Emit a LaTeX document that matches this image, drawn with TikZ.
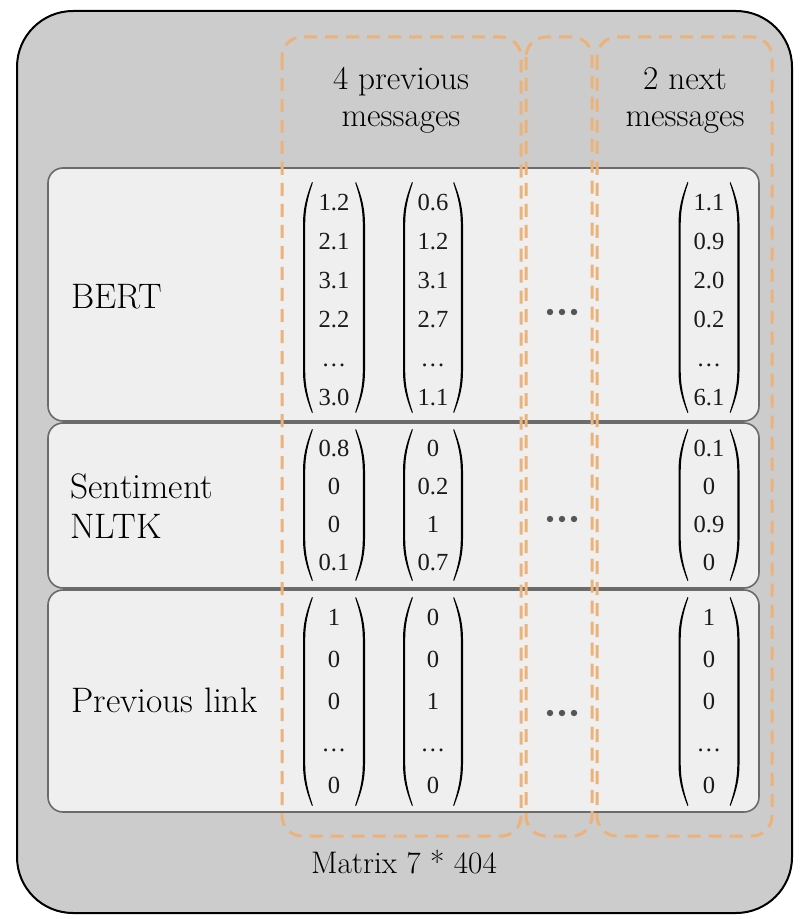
\documentclass[tikz,border=0pt]{standalone}
\usepackage{fontspec}
\newfontfamily\numfont{Liberation Serif}
\definecolor{outerfill}{HTML}{CCCCCC}
\definecolor{rowfill}{HTML}{EFEFEF}
\definecolor{rowdraw}{HTML}{6B6B6B}
\definecolor{dashor}{HTML}{EBB27A}
\definecolor{dotgray}{HTML}{555555}
\definecolor{numcol}{HTML}{1A1A1A}
% outer x, top, bottom, direction (+1 left paren, -1 right paren)
\newcommand\mparen[4]{%
  \fill ({#1+9*(#4)},{#2}) .. controls ({#1+3*(#4)},{#2+15}) and ({#1},{#2+27}) .. ({#1},{#2+42})
    -- ({#1},{#3-42}) .. controls ({#1},{#3-27}) and ({#1+3*(#4)},{#3-15}) .. ({#1+9*(#4)},{#3})
    -- ({#1+9.8*(#4)},{#3-0.8}) .. controls ({#1+5*(#4)},{#3-15}) and ({#1+2.2*(#4)},{#3-27}) .. ({#1+2.2*(#4)},{#3-42})
    -- ({#1+2.2*(#4)},{#2+42}) .. controls ({#1+2.2*(#4)},{#2+27}) and ({#1+5*(#4)},{#2+15}) .. ({#1+9.8*(#4)},{#2+0.8}) -- cycle;}
\newcommand\mpair[4]{% center x, half width, top, bottom
  \mparen{#1-#2}{#3}{#4}{1}\mparen{#1+#2}{#3}{#4}{-1}}
\begin{document}
\begin{tikzpicture}[x=0.5pt,y=-0.5pt,
  outerbox/.style={draw=black, line width=1pt, fill=outerfill, rounded corners=28pt},
  rowbox/.style={draw=rowdraw, line width=0.8pt, fill=rowfill, rounded corners=7.5pt},
  groupbox/.style={draw=dashor, line width=1.5pt, dash pattern=on 6.5pt off 4pt, rounded corners=10pt},
  label/.style={font=\fontsize{17.7}{20}\selectfont, inner sep=0pt},
  head/.style={font=\fontsize{16.6}{18.5}\selectfont, align=center, inner sep=0pt},
  foot/.style={font=\fontsize{15.6}{17}\selectfont, inner sep=0pt, anchor=base},
  entry/.style={font=\numfont\fontsize{12.3}{14}\selectfont, text=numcol, anchor=base, inner sep=0pt}]
\useasboundingbox (0,0) rectangle (800,919);
% outer box
\draw[outerbox] (17,11) rectangle (792,913);
% rows
\draw[rowbox] (48,168) rectangle (759,421);
\draw[rowbox] (48,423) rectangle (759,588);
\draw[rowbox] (48,590) rectangle (759,812);
% row labels
\node[label, anchor=base west] (bert) at (71,308) {BERT};
\node[label, anchor=west, align=left] (sent) at (70,506) {Sentiment\\NLTK};
\node[label, anchor=base west] (prev) at (71,712) {Previous link};
% header labels
\node[head] (h1) at (401,100) {4 previous\\messages};
\node[head] (h2) at (685,100) {2 next\\messages};
\node[foot] (mat) at (404,873) {Matrix 7 * 404};
% matrices row 1
\mpair{334}{31}{182}{413}
\mpair{433}{30}{182}{413}
\mpair{709}{30.5}{182}{413}
\foreach \v [count=\i] in {1.2,2.1,3.1,2.2,…,3.0}
  \node[entry] (a1-\i) at (334,{210.5+39*(\i-1)}) {\v};
\foreach \v [count=\i] in {0.6,1.2,3.1,2.7,…,1.1}
  \node[entry] (a2-\i) at (433,{210.5+39*(\i-1)}) {\v};
\foreach \v [count=\i] in {1.1,0.9,2.0,0.2,…,6.1}
  \node[entry] (a3-\i) at (709,{210.5+39*(\i-1)}) {\v};
% matrices row 2
\mpair{334}{31}{429}{581}
\mpair{433}{30}{429}{581}
\mpair{709}{30.5}{429}{581}
\foreach \v [count=\i] in {0.8,0,0,0.1}
  \node[entry] (b1-\i) at (334,{456.5+38*(\i-1)}) {\v};
\foreach \v [count=\i] in {0,0.2,1,0.7}
  \node[entry] (b2-\i) at (433,{456.5+38*(\i-1)}) {\v};
\foreach \v [count=\i] in {0.1,0,0.9,0}
  \node[entry] (b3-\i) at (709,{456.5+38*(\i-1)}) {\v};
% matrices row 3
\mpair{334}{31}{597}{806}
\mpair{433}{30}{597}{806}
\mpair{709}{30.5}{597}{806}
\foreach \v [count=\i] in {1,0,0,…,0}
  \node[entry] (c1-\i) at (334,{625.5+42*(\i-1)}) {\v};
\foreach \v [count=\i] in {0,0,1,…,0}
  \node[entry] (c2-\i) at (433,{625.5+42*(\i-1)}) {\v};
\foreach \v [count=\i] in {1,0,0,…,0}
  \node[entry] (c3-\i) at (709,{625.5+42*(\i-1)}) {\v};
% dots between columns
\foreach \y in {312,519,713}
  \foreach \dx in {-12,0,12}
    \fill[dotgray] ({562+\dx},\y) circle (3.2);
% dashed groups
\draw[groupbox] (282,37) rectangle (521,836);
\draw[groupbox] (526,37) rectangle (592,836);
\draw[groupbox] (597,37) rectangle (772,836);
\end{tikzpicture}
\end{document}
